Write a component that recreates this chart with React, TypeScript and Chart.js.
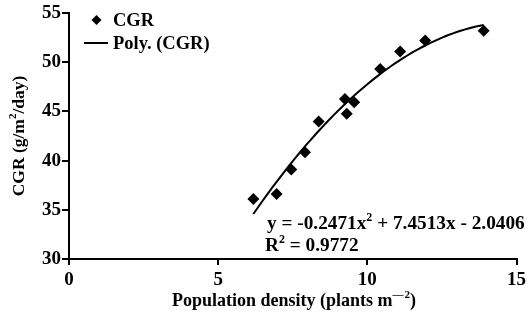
import React, { useEffect, useRef } from "react";
import { Chart, registerables } from "chart.js";

Chart.register(...registerables);

const densityX = [6.18, 6.96, 7.45, 7.91, 8.37, 9.25, 9.31, 9.56, 10.43, 11.1, 11.94, 13.9];
const cgrY = [36.1, 36.6, 39.1, 40.85, 43.97, 46.25, 44.75, 45.94, 49.3, 51.1, 52.2, 53.2];
// Trendline coefficients as printed on the chart: y = a x^2 + b x + c
const polyCoef = [-0.2471, 7.4513, -2.0406];
const xTicks = [0, 5, 10, 15];
const yTicks = [30, 35, 40, 45, 50, 55];

const FONT = "'Liberation Serif', 'Times New Roman', serif";

type Seg = { t: string; sup?: boolean };

function drawRich(ctx: CanvasRenderingContext2D, segs: Seg[], x: number, y: number, size: number, align: "left" | "center") {
  const main = `bold ${size}px ${FONT}`;
  const small = `bold ${Math.round(size * 0.6)}px ${FONT}`;
  let total = 0;
  for (const s of segs) {
    ctx.font = s.sup ? small : main;
    total += ctx.measureText(s.t).width;
  }
  let cx = align === "center" ? x - total / 2 : x;
  ctx.textBaseline = "middle";
  ctx.textAlign = "left";
  for (const s of segs) {
    ctx.font = s.sup ? small : main;
    ctx.fillText(s.t, cx, s.sup ? y - size * 0.33 : y);
    cx += ctx.measureText(s.t).width;
  }
}

const overlay = {
  id: "overlay",
  afterDraw(chart: any) {
    const ctx = chart.ctx as CanvasRenderingContext2D;
    const xs = chart.scales.x;
    const ys = chart.scales.y;
    ctx.save();
    ctx.fillStyle = "#000";
    ctx.strokeStyle = "#000";
    // legend
    const lx = 96.5, ly1 = 20, ly2 = 43;
    ctx.beginPath();
    ctx.moveTo(lx, ly1 - 5);
    ctx.lineTo(lx + 5, ly1);
    ctx.lineTo(lx, ly1 + 5);
    ctx.lineTo(lx - 5, ly1);
    ctx.closePath();
    ctx.fill();
    ctx.lineWidth = 2;
    ctx.beginPath();
    ctx.moveTo(84, ly2);
    ctx.lineTo(108, ly2);
    ctx.stroke();
    drawRich(ctx, [{ t: "CGR" }], 113, ly1 + 1, 18.5, "left");
    drawRich(ctx, [{ t: "Poly. (CGR)" }], 113, ly2 + 1, 18.5, "left");
    // equation
    drawRich(
      ctx,
      [{ t: "y = -0.2471x" }, { t: "2", sup: true }, { t: " + 7.4513x - 2.0406" }],
      267,
      224,
      19.3,
      "left"
    );
    drawRich(ctx, [{ t: "R" }, { t: "2", sup: true }, { t: " = 0.9772" }], 265, 246, 19.3, "left");
    // x title
    drawRich(
      ctx,
      [{ t: "Population density (plants m" }, { t: "\u2014\u200a2", sup: true }, { t: ")" }],
      294,
      301,
      18,
      "center"
    );
    // y title
    ctx.translate(19, (ys.top + ys.bottom) / 2);
    ctx.rotate(-Math.PI / 2);
    drawRich(ctx, [{ t: "CGR (g/m" }, { t: "2", sup: true }, { t: "/day)" }], 0, 0, 17.5, "center");
    ctx.restore();
  },
};

export default function App() {
  const ref = useRef<HTMLCanvasElement>(null);
  useEffect(() => {
    if (!ref.current) return;
    const trendX: number[] = [];
    const n = 60;
    const x0 = Math.min(...densityX);
    const x1 = Math.max(...densityX);
    for (let i = 0; i <= n; i++) trendX.push(x0 + ((x1 - x0) * i) / n);
    const trend = trendX.map((x) => ({ x, y: polyCoef[0] * x * x + polyCoef[1] * x + polyCoef[2] }));
    const pts = densityX.map((x, i) => ({ x, y: cgrY[i] }));
    const chart = new Chart(ref.current, {
      type: "scatter",
      data: {
        datasets: [
          {
            label: "Poly. (CGR)",
            data: trend,
            showLine: true,
            borderColor: "#000",
            borderWidth: 2,
            pointRadius: 0,
            tension: 0,
          },
          {
            label: "CGR",
            data: pts,
            pointStyle: "rectRot",
            pointRadius: 6,
            backgroundColor: "#000",
            borderColor: "#000",
            borderWidth: 0,
          },
        ],
      },
      options: {
        animation: false,
        responsive: false,
        devicePixelRatio: 1,
        layout: { padding: { left: 0, right: 13, top: 13, bottom: 0 } },
        plugins: { legend: { display: false }, tooltip: { enabled: false } },
        scales: {
          x: {
            type: "linear",
            min: 0,
            max: 15,
            afterBuildTicks: (s: any) => {
              s.ticks = xTicks.map((v) => ({ value: v }));
            },
            afterFit: (s: any) => {
              s.height = 59;
            },
            border: { display: true, color: "#000", width: 2 },
            grid: { drawOnChartArea: false, drawTicks: true, tickLength: 6, color: "#000", lineWidth: 2 },
            ticks: { color: "#000", font: { family: FONT, size: 19, weight: "bold" }, padding: 4, maxRotation: 0 },
          },
          y: {
            type: "linear",
            min: 30,
            max: 55,
            afterBuildTicks: (s: any) => {
              s.ticks = yTicks.map((v) => ({ value: v }));
            },
            afterFit: (s: any) => {
              s.width = 69;
            },
            border: { display: true, color: "#000", width: 2 },
            grid: { drawOnChartArea: false, drawTicks: true, tickLength: 7, color: "#000", lineWidth: 2 },
            ticks: { color: "#000", font: { family: FONT, size: 19, weight: "bold" }, padding: 1 },
          },
        },
      },
      plugins: [overlay],
    });
    return () => chart.destroy();
  }, []);
  return (
    <div style={{ position: "fixed", left: 0, top: 0, width: 530, height: 318, background: "#fff" }}>
      <canvas ref={ref} width={530} height={318} style={{ width: 530, height: 318, display: "block" }} />
    </div>
  );
}
